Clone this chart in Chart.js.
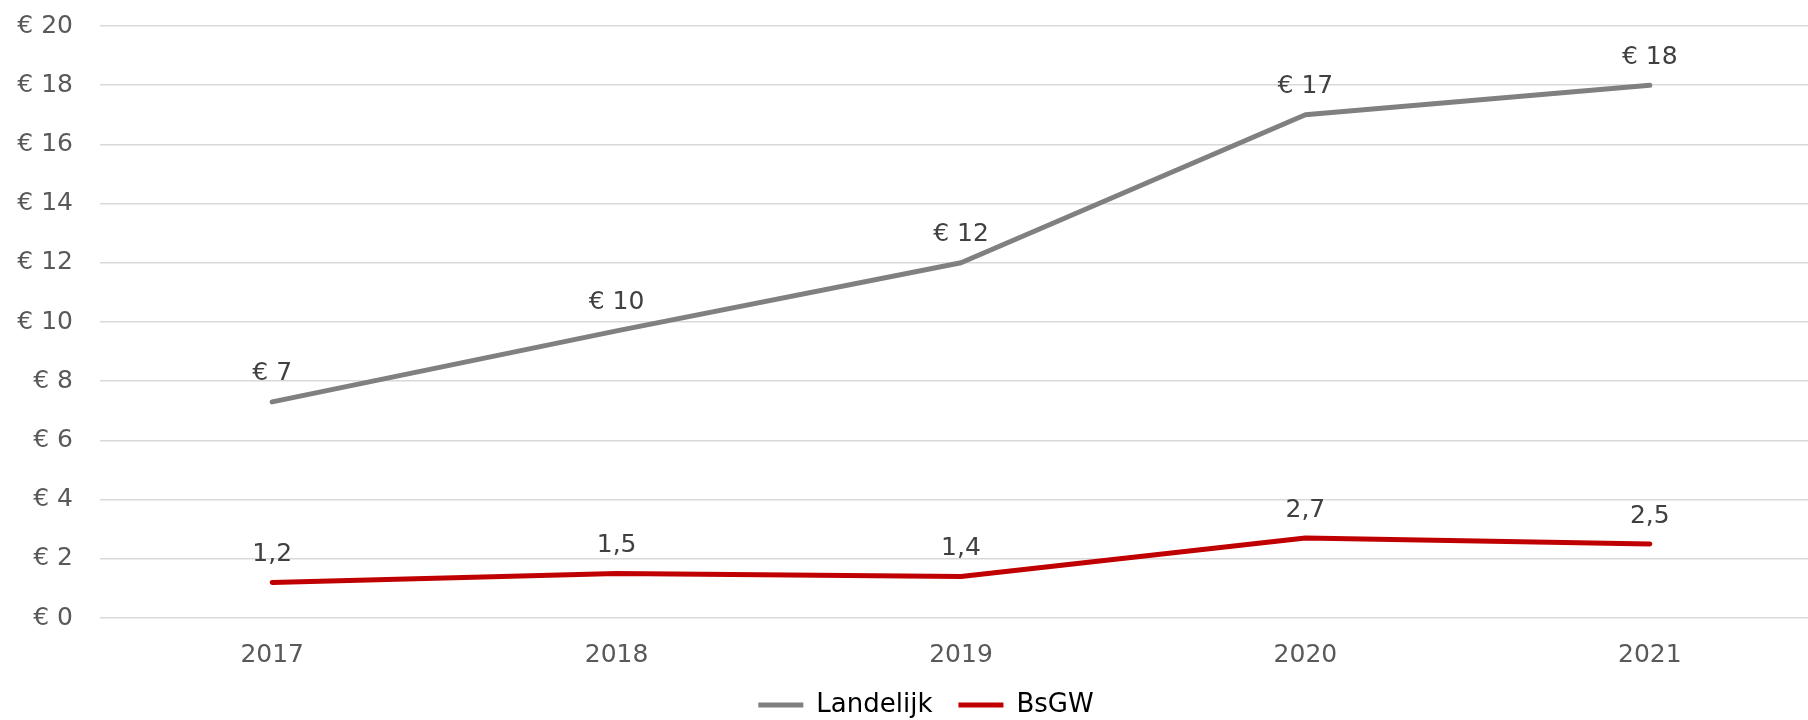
<!DOCTYPE html>
<html>
<head>
<meta charset="utf-8">
<script src="https://cdn.jsdelivr.net/npm/chart.js@4/dist/chart.umd.min.js"></script>
<style>
  html, body { margin: 0; padding: 0; background: #ffffff; overflow: hidden; width: 1808px; height: 720px; }
  #wrap { position: absolute; left: 0; top: 0; width: 1852px; height: 720px; }
</style>
</head>
<body>
<div id="wrap"><canvas id="c" width="1852" height="720"></canvas></div>
<script>
const years = ['2017', '2018', '2019', '2020', '2021'];
const landelijk = [7.3, 9.7, 12.0, 17.0, 18.0];
const bsgw = [1.2, 1.5, 1.4, 2.7, 2.5];
const landelijkLabels = ['€ 7', '€ 10', '€ 12', '€ 17', '€ 18'];
const bsgwLabels = ['1,2', '1,5', '1,4', '2,7', '2,5'];
const yTicks = [0, 2, 4, 6, 8, 10, 12, 14, 16, 18, 20];

const FONT = 'DejaVu Sans';

const valueLabels = {
  id: 'valueLabels',
  afterDatasetsDraw(chart) {
    const ctx = chart.ctx;
    ctx.save();
    ctx.font = '25px "' + FONT + '"';
    ctx.fillStyle = '#404040';
    ctx.textAlign = 'center';
    ctx.textBaseline = 'middle';
    chart.data.datasets.forEach((ds, i) => {
      const meta = chart.getDatasetMeta(i);
      meta.data.forEach((pt, j) => {
        ctx.fillText(ds.valueLabels[j], pt.x, pt.y - 28);
      });
    });
    ctx.restore();
  }
};

// Centre the legend on the full (uncropped) chart width, like the original
const legendShift = {
  id: 'legendShift',
  afterLayout(chart) {
    if (chart.legend) {
      chart.legend.left += 15;
      chart.legend.right += 15;
    }
  }
};

new Chart(document.getElementById('c'), {
  type: 'line',
  data: {
    labels: years,
    datasets: [
      {
        label: 'Landelijk',
        data: landelijk,
        valueLabels: landelijkLabels,
        borderColor: '#808080',
        backgroundColor: '#808080',
        borderWidth: 5,
        borderCapStyle: 'round',
        borderJoinStyle: 'round',
        pointRadius: 0,
        pointStyle: 'line',
        tension: 0
      },
      {
        label: 'BsGW',
        data: bsgw,
        valueLabels: bsgwLabels,
        borderColor: '#C00000',
        backgroundColor: '#C00000',
        borderWidth: 5,
        borderCapStyle: 'round',
        borderJoinStyle: 'round',
        pointRadius: 0,
        pointStyle: 'line',
        tension: 0
      }
    ]
  },
  options: {
    responsive: false,
    animation: false,
    layout: { padding: { left: 0, right: 30, top: 26, bottom: -8 } },
    plugins: {
      tooltip: { enabled: false },
      legend: {
        position: 'bottom',
        labels: {
          usePointStyle: true,
          pointStyleWidth: 45,
          padding: 26,
          color: '#000000',
          font: { family: FONT, size: 26 }
        }
      }
    },
    scales: {
      x: {
        offset: true,
        grid: { display: false, drawTicks: false },
        border: { display: false },
        ticks: { color: '#595959', font: { family: FONT, size: 25 }, padding: 22 },
        afterFit(scale) { scale.height = 48; }
      },
      y: {
        min: 0,
        max: 20,
        afterBuildTicks(scale) { scale.ticks = yTicks.map(v => ({ value: v })); },
        grid: { color: '#d9d9d9', lineWidth: 1.5, drawTicks: true, tickLength: 27, tickColor: 'rgba(0,0,0,0)' },
        border: { display: false },
        ticks: {
          color: '#595959',
          font: { family: FONT, size: 25 },
          padding: 0,
          callback: v => '€ ' + v
        },
        afterFit(scale) { scale.width = 100; }
      }
    }
  },
  plugins: [valueLabels, legendShift]
});
</script>
</body>
</html>
